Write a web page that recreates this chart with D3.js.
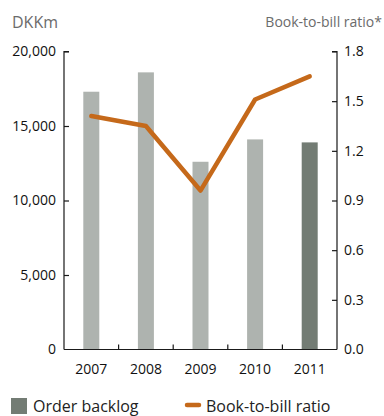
<!DOCTYPE html>
<html>
<head>
<meta charset="utf-8">
<script src="https://cdn.jsdelivr.net/npm/d3@7/dist/d3.min.js"></script>
<style>
  html, body { margin: 0; padding: 0; background: #fff; }
  svg { display: block; font-family: "Open Sans", "Noto Sans", sans-serif; }
</style>
</head>
<body>
<svg id="chart" width="384" height="416"></svg>
<script>
// Order backlog (DKKm) and book-to-bill ratio by year
const years = ["2007", "2008", "2009", "2010", "2011"];
const orderBacklog = [17300, 18600, 12600, 14100, 13900];
const bookToBill = [1.41, 1.35, 0.96, 1.51, 1.65];
const leftTicks = [0, 5000, 10000, 15000, 20000];
const rightTicks = [0, 0.3, 0.6, 0.9, 1.2, 1.5, 1.8];

const svg = d3.select("#chart");
const margin = { left: 64, right: 337, top: 51.5, bottom: 349.5 };

const x = d3.scaleBand().domain(years).range([margin.left, margin.right]).padding(0);
const yL = d3.scaleLinear().domain([0, 20000]).range([margin.bottom, margin.top]);
const yR = d3.scaleLinear().domain([0, 1.8]).range([margin.bottom, margin.top]);

const barW = 16;
const lightBar = "#aeb3af";
const darkBar = "#737c74";
const lineColor = "#c5691a";
const axisColor = "#1a1a1a";
const tickFont = 14;

// Bars
svg.append("g").selectAll("rect")
  .data(years.map((y, i) => ({ year: y, v: orderBacklog[i], last: i === years.length - 1 })))
  .join("rect")
  .attr("x", d => x(d.year) + x.bandwidth() / 2 - barW / 2)
  .attr("width", barW)
  .attr("y", d => yL(d.v))
  .attr("height", d => yL(0) - yL(d.v))
  .attr("fill", d => d.last ? darkBar : lightBar);

// Left axis
const leftAxis = svg.append("g")
  .attr("transform", `translate(${margin.left},0)`)
  .call(d3.axisRight(yL).tickValues(leftTicks).tickSize(5).tickFormat(""));
leftAxis.select(".domain").attr("d", `M5,${margin.top}H0V${margin.bottom}`);
leftAxis.selectAll("line,path").attr("stroke", axisColor).attr("stroke-width", 1.2);
leftAxis.selectAll(".tick").filter(d => d === 0).remove();

svg.append("g").selectAll("text")
  .data(leftTicks)
  .join("text")
  .attr("x", 56)
  .attr("y", d => yL(d))
  .attr("dy", "0.35em")
  .attr("text-anchor", "end")
  .attr("font-size", tickFont)
  .attr("fill", "#111")
  .text(d => d3.format(",")(d));

// Right axis
const rightAxis = svg.append("g")
  .attr("transform", `translate(${margin.right},0)`)
  .call(d3.axisLeft(yR).tickValues(rightTicks).tickSize(5).tickFormat(""));
rightAxis.select(".domain").attr("d", `M-5,${margin.top}H0V${margin.bottom}`);
rightAxis.selectAll("line,path").attr("stroke", axisColor).attr("stroke-width", 1.2);
rightAxis.selectAll(".tick").filter(d => d === 0).remove();

svg.append("g").selectAll("text")
  .data(rightTicks)
  .join("text")
  .attr("x", 344)
  .attr("y", d => yR(d))
  .attr("dy", "0.35em")
  .attr("text-anchor", "start")
  .attr("font-size", tickFont)
  .attr("fill", "#111")
  .text(d => d3.format(".1f")(d));

// Bottom axis: baseline with small upward ticks between categories
const bottom = svg.append("g");
bottom.append("line")
  .attr("x1", margin.left).attr("x2", margin.right)
  .attr("y1", margin.bottom).attr("y2", margin.bottom)
  .attr("stroke", axisColor).attr("stroke-width", 1.2);
bottom.selectAll("line.sep")
  .data(years.slice(1))
  .join("line")
  .attr("class", "sep")
  .attr("x1", d => x(d)).attr("x2", d => x(d))
  .attr("y1", margin.bottom).attr("y2", margin.bottom - 5)
  .attr("stroke", axisColor).attr("stroke-width", 1.2);
bottom.selectAll("text")
  .data(years)
  .join("text")
  .attr("x", d => x(d) + x.bandwidth() / 2)
  .attr("y", 369)
  .attr("dy", "0.35em")
  .attr("text-anchor", "middle")
  .attr("font-size", tickFont)
  .attr("fill", "#111")
  .text(d => d);

// Book-to-bill line
const line = d3.line()
  .x((d, i) => x(years[i]) + x.bandwidth() / 2)
  .y(d => yR(d));
svg.append("path")
  .datum(bookToBill)
  .attr("d", line)
  .attr("fill", "none")
  .attr("stroke", lineColor)
  .attr("stroke-width", 4.5)
  .attr("stroke-linejoin", "round")
  .attr("stroke-linecap", "round");

// Axis titles
svg.append("text")
  .attr("x", 12).attr("y", 22).attr("dy", "0.35em")
  .attr("font-size", 16).attr("fill", "#6b6b6b")
  .text("DKKm");
svg.append("text")
  .attr("x", 382).attr("y", 22).attr("dy", "0.35em")
  .attr("text-anchor", "end")
  .attr("font-size", 14).attr("fill", "#6b6b6b")
  .text("Book-to-bill ratio*");

// Legend
const legend = svg.append("g");
legend.append("rect")
  .attr("x", 11).attr("y", 398).attr("width", 16).attr("height", 16)
  .attr("fill", darkBar);
legend.append("text")
  .attr("x", 33).attr("y", 406).attr("dy", "0.35em")
  .attr("font-size", 16).attr("fill", "#222")
  .text("Order backlog");
legend.append("line")
  .attr("x1", 187).attr("x2", 199).attr("y1", 405).attr("y2", 405)
  .attr("stroke", lineColor).attr("stroke-width", 4.5).attr("stroke-linecap", "round");
legend.append("text")
  .attr("x", 206).attr("y", 406).attr("dy", "0.35em")
  .attr("font-size", 16).attr("fill", "#222")
  .text("Book-to-bill ratio");
</script>
</body>
</html>
